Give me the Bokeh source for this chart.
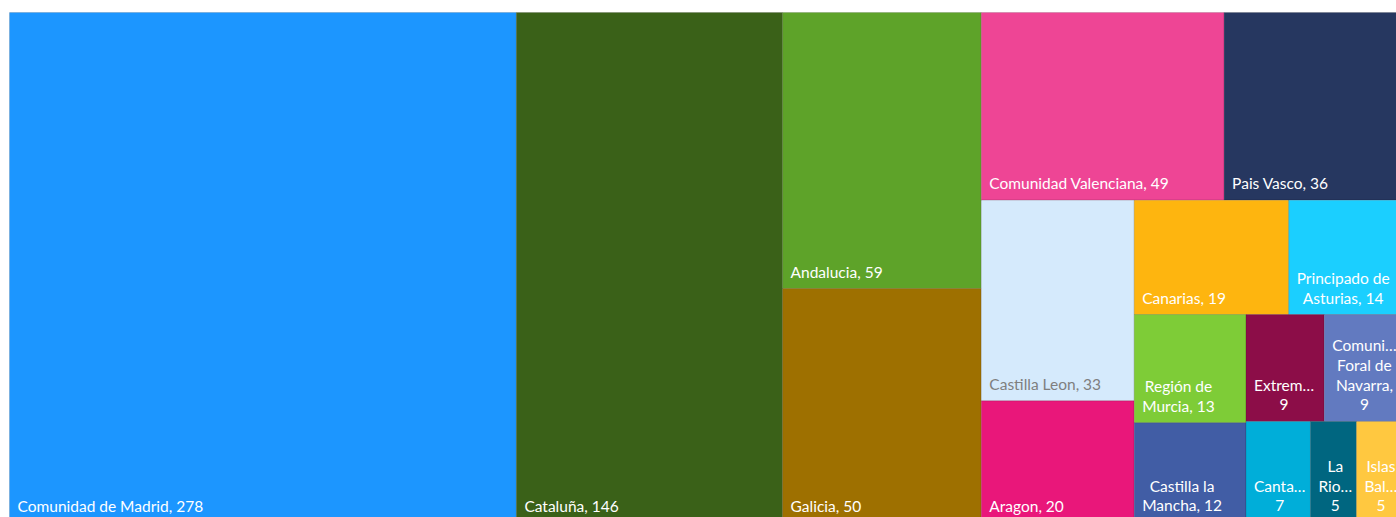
from bokeh.plotting import figure
from bokeh.models import Range1d, ColumnDataSource
from bokeh.core.properties import value
from bokeh.embed import file_html
from bokeh.resources import INLINE

regions = ["Comunidad de Madrid", "Cataluña", "Andalucia", "Galicia",
           "Comunidad Valenciana", "Pais Vasco", "Castilla Leon", "Aragon",
           "Canarias", "Principado de Asturias", "Región de Murcia",
           "Castilla la Mancha", "Extremadura", "Comunidad Foral de Navarra",
           "Cantabria", "La Rioja", "Islas Baleares"]
counts = [278, 146, 59, 50, 49, 36, 33, 20, 19, 14, 13, 12, 9, 9, 7, 5, 5]
labels = ["Comunidad de Madrid, 278", "Cataluña, 146", "Andalucia, 59",
          "Galicia, 50", "Comunidad Valenciana, 49", "Pais Vasco, 36",
          "Castilla Leon, 33", "Aragon, 20", "Canarias, 19",
          "Principado de\nAsturias, 14", "Región de\nMurcia, 13",
          "Castilla la\nMancha, 12", "Extrem…\n9", "Comuni…\nForal de\nNavarra,\n9",
          "Canta…\n7", "La\nRio…\n5", "Islas\nBal…\n5"]
colors = ["#1C96FF", "#3A6118", "#5EA329", "#9E7000", "#EE4595", "#263760",
          "#D5EAFC", "#E9177A", "#FEB50F", "#1BCFFF", "#7ECC37", "#415DA5",
          "#8C0D48", "#627AC0", "#00AED9", "#006680", "#FFC840"]
text_colors = ["white"] * 6 + ["#7F7F7F"] + ["white"] * 10
# number of tiles per strip of the squarified layout
strip_sizes = [1, 1, 2, 2, 2, 2, 2, 2, 1, 2]

W, H = 1393.0, 510.0


def squarify(vals, x, y, w, h, strips):
    rects = []
    i = 0
    for n in strips:
        grp = vals[i:i + n]
        rest = sum(vals[i:])
        s = sum(grp)
        if w >= h:
            cw = w * s / rest
            top = y + h
            for v in grp:
                hh = h * v / s
                rects.append((x, top - hh, cw, hh))
                top -= hh
            x += cw
            w -= cw
        else:
            rh = h * s / rest
            left = x
            for v in grp:
                ww = w * v / s
                rects.append((left, y + h - rh, ww, rh))
                left += ww
            h -= rh
        i += n
    return rects


rects = squarify(counts, 0.0, 0.0, W, H, strip_sizes)

xs = [r[0] + r[2] / 2 for r in rects]
ys = [r[1] + r[3] / 2 for r in rects]
ws = [r[2] for r in rects]
hs = [r[3] for r in rects]
lx = [r[0] + 8 for r in rects]
ly = [r[1] + 8 for r in rects]

src = ColumnDataSource(dict(x=xs, y=ys, w=ws, h=hs, color=colors,
                            lx=lx, ly=ly, label=labels, tc=text_colors,
                            region=regions, count=counts))

p = figure(width=1396, height=517, output_backend="svg", toolbar_location=None,
           x_range=Range1d(-9, 1387), y_range=Range1d(5, 522),
           min_border=0, outline_line_color=None)
p.axis.visible = False
p.grid.visible = False

p.rect(x="x", y="y", width="w", height="h", source=src, fill_color="color",
       line_color="black", line_alpha=0.12, line_width=1)
p.text(x="lx", y="ly", text="label", source=src, text_color="tc",
       text_font=value("Lato"), text_font_size="15.5px",
       text_align="center", anchor="bottom_left", text_line_height=1.1)

open("out.html", "w").write(file_html(p, INLINE))
